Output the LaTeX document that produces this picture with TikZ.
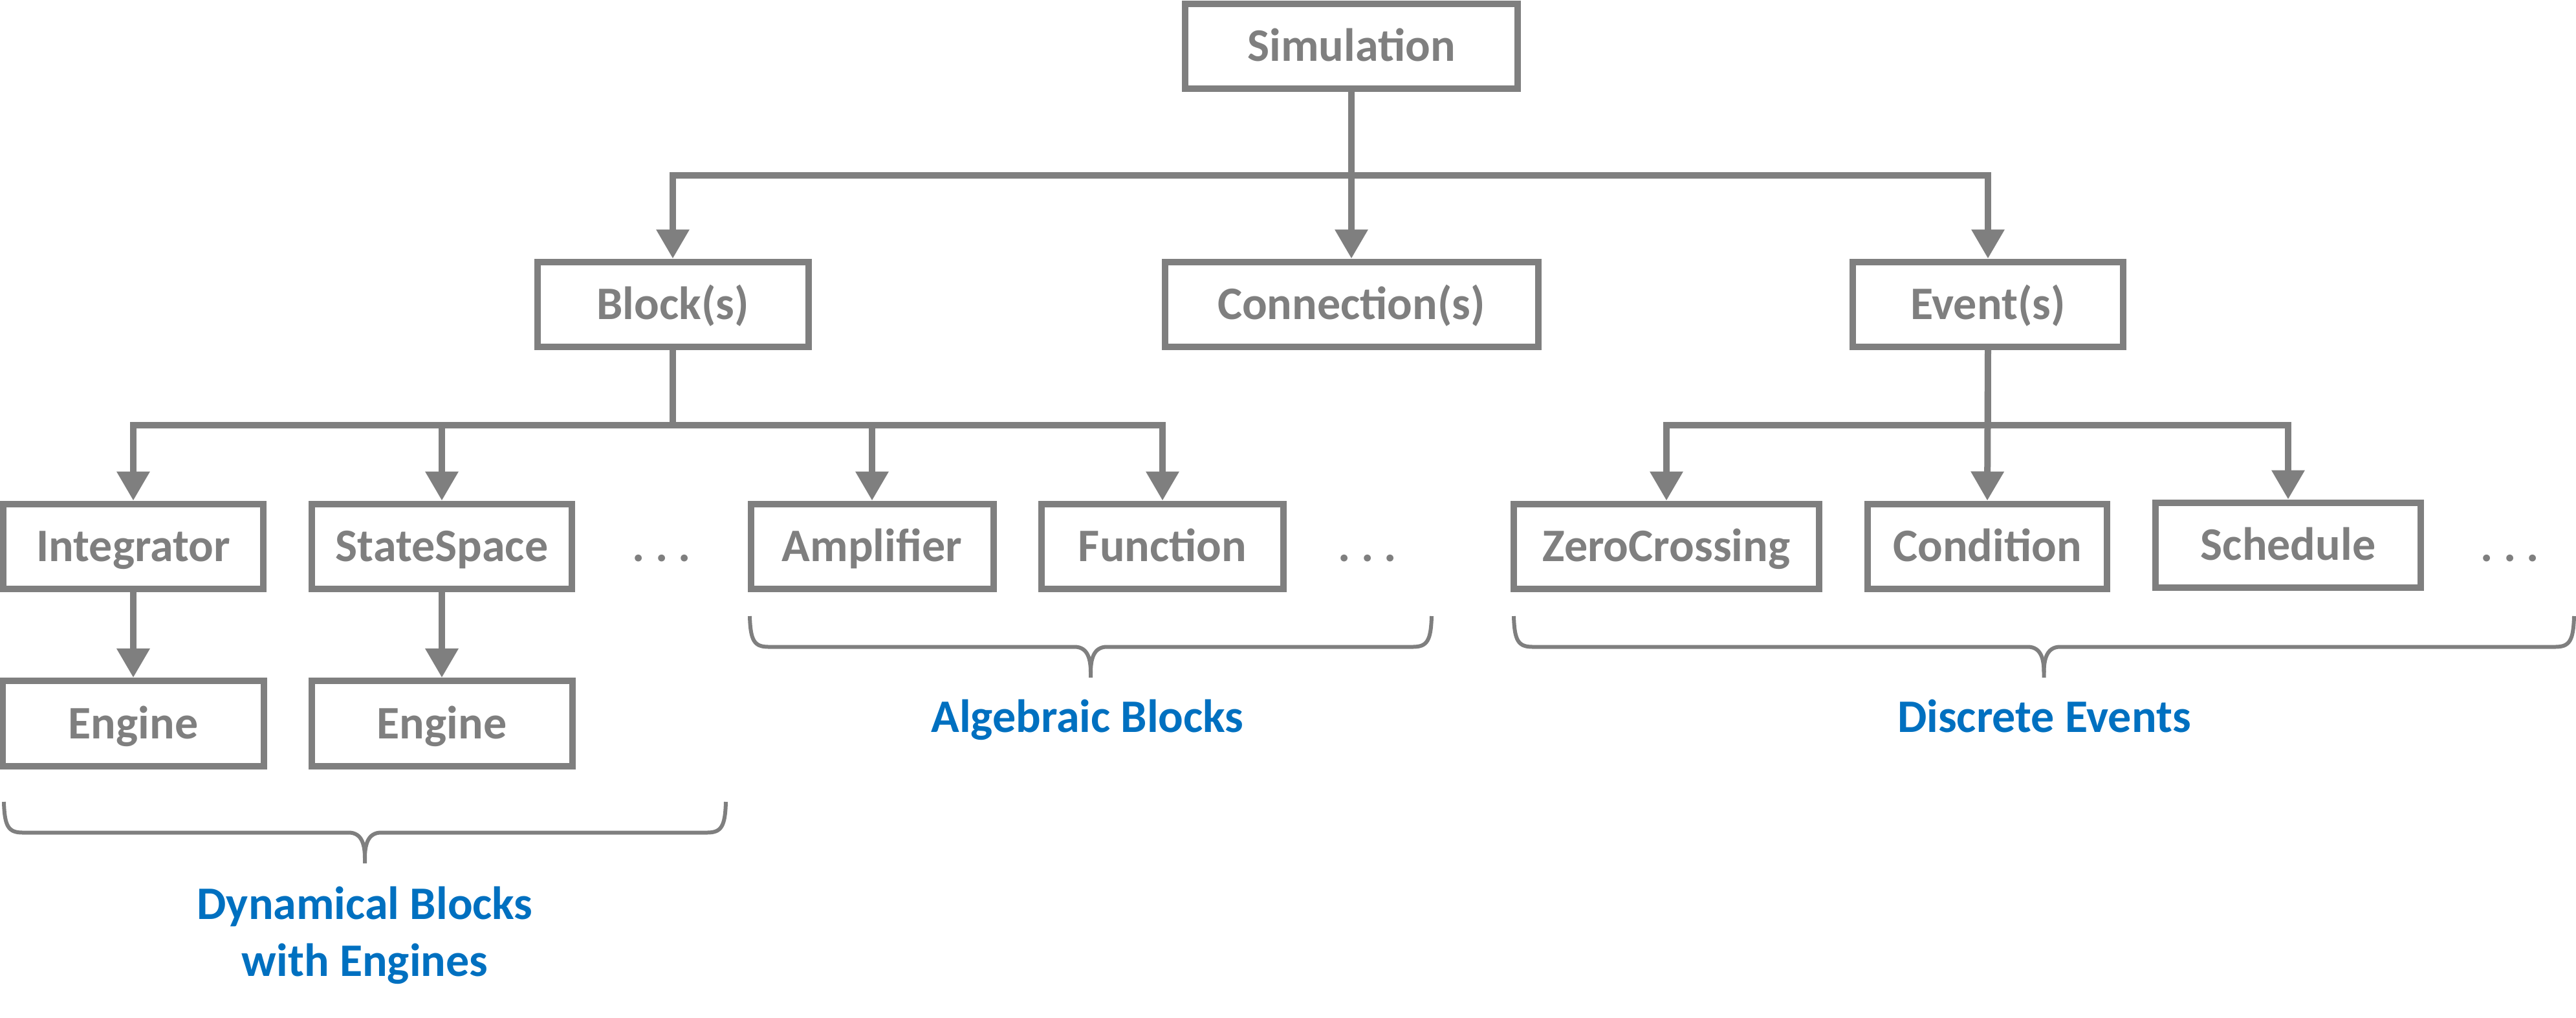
\documentclass[tikz,border=0pt]{standalone}
\usepackage{fontspec}
\setmainfont{Carlito}
\usetikzlibrary{arrows.meta}

\definecolor{boxgray}{HTML}{7F7F7F}
\definecolor{groupblue}{HTML}{0070C0}

\newcommand{\labelfont}{\fontsize{20.5pt}{25pt}\selectfont\bfseries}

% curly brace under a group: left x, right x, top y
\newcommand{\groupbrace}[3]{%
    \draw[bracestroke] (#1,#3) .. controls (#1+0.01,#3-0.38) and (#1+0.07,#3-0.475) .. (#1+0.29,#3-0.475)
        -- ({(#1+#2)/2-0.25},#3-0.475) .. controls ({(#1+#2)/2-0.04},#3-0.475) and ({(#1+#2)/2},#3-0.675) .. ({(#1+#2)/2},#3-0.87)
        -- ({(#1+#2)/2},#3-0.95);
    \draw[bracestroke] ({(#1+#2)/2},#3-0.87) .. controls ({(#1+#2)/2},#3-0.675) and ({(#1+#2)/2+0.04},#3-0.475) .. ({(#1+#2)/2+0.25},#3-0.475)
        -- (#2-0.29,#3-0.475) .. controls (#2-0.07,#3-0.475) and (#2-0.01,#3-0.38) .. (#2,#3);
}

\tikzset{
    box/.style={draw=boxgray, line width=1mm, text=boxgray, font=\labelfont,
        minimum height=1.31cm, inner sep=0pt, text height=0.46cm, text depth=0pt},
    etc/.style={text=boxgray, font=\labelfont, inner sep=0pt, text height=0.46cm, text depth=0pt},
    link/.style={draw=boxgray, line width=1mm},
    arrow/.style={link, -{Triangle[length=4.5mm, width=4.9mm]}},
    bracestroke/.style={draw=boxgray, line width=0.6mm},
    group/.style={text=groupblue, font=\labelfont, align=center, inner sep=0pt}
}

\begin{document}
\begin{tikzpicture}

    \useasboundingbox (0,0) rectangle (39.82,-15.72);

    \node[box, minimum width=5.14cm] (sim) at (20.89,-0.71) {Simulation};

    \node[box, minimum width=4.19cm] (blocks) at (10.40,-4.70) {Block(s)};
    \node[box, minimum width=5.77cm] (conn)   at (20.89,-4.70) {Connection(s)};
    \node[box, minimum width=4.18cm] (events) at (30.73,-4.70) {Event(s)};

    \node[box, minimum width=4.02cm] (integ)  at (2.06,-8.44)  {Integrator};
    \node[box, minimum width=4.02cm] (stsp)   at (6.83,-8.44)  {StateSpace};
    \node[etc] (dotsA) at (10.23,-8.44) {.\ .\ .};
    \node[box, minimum width=3.75cm] (ampl)   at (13.48,-8.44) {Amplifier};
    \node[box, minimum width=3.74cm] (func)   at (17.97,-8.44) {Function};
    \node[etc] (dotsB) at (21.14,-8.44) {.\ .\ .};
    \node[box, minimum width=4.72cm] (zerocr) at (25.76,-8.44) {ZeroCrossing};
    \node[box, minimum width=3.70cm] (cond)   at (30.72,-8.44) {Condition};
    \node[box, minimum width=4.10cm] (sched)  at (35.37,-8.42) {Schedule};
    \node[etc] (dotsC) at (38.80,-8.44) {.\ .\ .};

    \node[box, minimum width=4.03cm, minimum height=1.32cm] (engA) at (2.06,-11.18) {Engine};
    \node[box, minimum width=4.03cm, minimum height=1.32cm] (engB) at (6.83,-11.18) {Engine};

    \coordinate (busTop) at (0,-2.71);
    \coordinate (busLow) at (0,-6.57);

    % tree connectors
    \draw[arrow] (sim.south) -- (sim.south |- busTop) -| (blocks.north);
    \draw[arrow] (sim.south) -- (conn.north);
    \draw[arrow] (sim.south) -- (sim.south |- busTop) -| (events.north);

    \draw[arrow] (blocks.south) -- (blocks.south |- busLow) -| (integ.north);
    \draw[arrow] (blocks.south) -- (blocks.south |- busLow) -| (stsp.north);
    \draw[arrow] (blocks.south) -- (blocks.south |- busLow) -| (ampl.north);
    \draw[arrow] (blocks.south) -- (blocks.south |- busLow) -| (func.north);

    \draw[arrow] (events.south) -- (events.south |- busLow) -| (zerocr.north);
    \draw[arrow] (events.south) -- (cond.north);
    \draw[arrow] (events.south) -- (events.south |- busLow) -| (sched.north);

    \draw[arrow] (integ.south) -- (engA.north);
    \draw[arrow] (stsp.south) -- (engB.north);

    \groupbrace{0.06}{11.22}{-12.39}
    \groupbrace{11.59}{22.13}{-9.52}
    \groupbrace{23.40}{39.79}{-9.52}

    \node[group, anchor=base] (dynlabel) at (5.64,-15.08) {Dynamical Blocks\\with Engines};
    \node[group, anchor=base] (alglabel) at (16.81,-11.31) {Algebraic Blocks};
    \node[group, anchor=base] (evlabel)  at (31.60,-11.31) {Discrete Events};

\end{tikzpicture}
\end{document}
